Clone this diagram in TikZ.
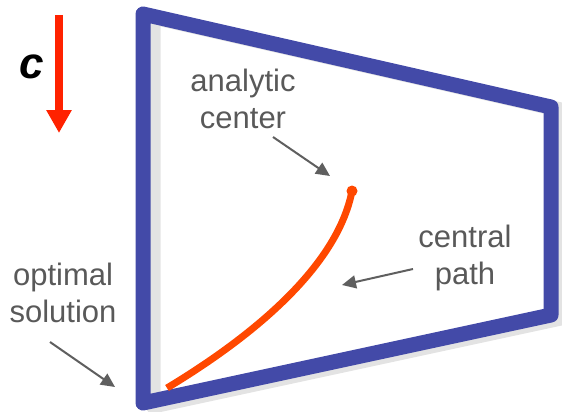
\documentclass[tikz,border=0pt]{standalone}
\usepackage{fontspec}
\setmainfont{Liberation Sans}
\usetikzlibrary{arrows.meta}
\definecolor{polyblue}{RGB}{67,74,168}
\definecolor{shadowgray}{RGB}{227,227,227}
\definecolor{pathorange}{RGB}{255,72,0}
\definecolor{costred}{RGB}{255,34,0}
\definecolor{labelgray}{RGB}{89,89,89}
\definecolor{pointergray}{RGB}{95,95,95}
\tikzset{
  polyline/.style={line width=15pt, line join=round, draw=polyblue},
  polyshadow/.style={line width=15pt, line join=round, draw=shadowgray},
  label/.style={text=labelgray, inner sep=0pt, align=center, font=\fontsize{31}{37}\selectfont},
  pointer/.style={draw=pointergray, line width=2pt, -{Triangle[width=13pt,length=14pt]}},
}
\begin{document}
\begin{tikzpicture}[x=1pt,y=-1pt]
\useasboundingbox (0,0) rectangle (562,412);
% feasible polygon
\coordinate (p1) at (143,14);
\coordinate (p2) at (551,107);
\coordinate (p3) at (551,315);
\coordinate (p4) at (143,403);
\draw[polyshadow] ([shift={(10pt,-3pt)}]p1) -- ([shift={(10pt,-3pt)}]p2) -- ([shift={(10pt,-3pt)}]p3) -- ([shift={(10pt,-3pt)}]p4) -- cycle;
\draw[polyline] (p1) -- (p2) -- (p3) -- (p4) -- cycle;
% cost vector
\coordinate (c0) at (59,15);
\coordinate (c1) at (59,133);
\draw[costred, line width=8pt, -{Triangle[width=24pt,length=23pt]}] (c0) -- (c1);
\node[inner sep=0pt, font=\fontsize{44}{44}\selectfont\bfseries\itshape] (clab) at (32,67) {c};
% central path
\coordinate (opt) at (167,388);
\coordinate (ac) at (352,191);
\draw[pathorange, line width=7pt] (opt) .. controls (250,338) and (337,268) .. (ac);
\fill[pathorange] (ac) circle (5.5pt);
% labels
\node[label] (lac) at (243,99) {analytic\\center};
\node[label] (lcp) at (465,258) {central\\path};
\node[label] (los) at (63,293) {optimal\\solution};
% pointers
\coordinate (a1s) at (273,137);
\coordinate (a1e) at (330,176);
\coordinate (a2s) at (413,269);
\coordinate (a2e) at (342,285);
\coordinate (a3s) at (50,342);
\coordinate (a3e) at (115,387);
\draw[pointer] (a1s) -- (a1e);
\draw[pointer] (a2s) -- (a2e);
\draw[pointer] (a3s) -- (a3e);
\end{tikzpicture}
\end{document}
